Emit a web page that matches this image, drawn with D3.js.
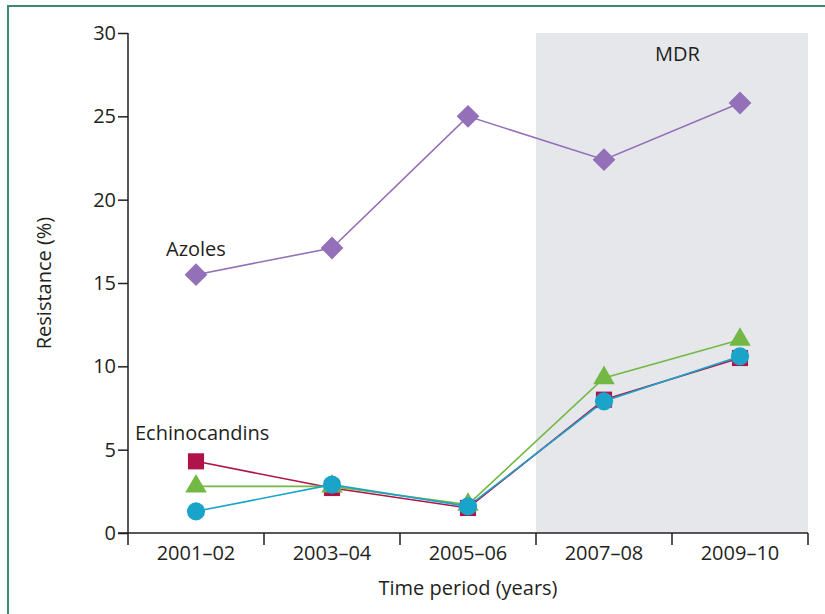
<!DOCTYPE html>
<html lang="en">
<head>
<meta charset="UTF-8" />
<style>
  body { margin: 0; background: #fff; }
  text { font-family: "Open Sans", "Noto Sans", sans-serif; fill: #231f20; }
</style>
</head>
<body>
<svg width="825" height="614"></svg>
<script src="https://d3js.org/d3.v7.min.js"></script>
<script>
// data
var periods = ["2001–02", "2003–04", "2005–06", "2007–08", "2009–10"];
var yTicks = [0, 5, 10, 15, 20, 25, 30];
var mdrPeriods = ["2007–08", "2009–10"];

var azoles = [15.5, 17.1, 25.0, 22.4, 25.8];
var echinoRed = [4.3, 2.7, 1.5, 8.0, 10.5];
var greenTri = [2.8, 2.8, 1.7, 9.3, 11.6];
var blueCircle = [1.3, 2.9, 1.6, 7.9, 10.6];

var svg = d3.select("svg");
var fs = "20px";

// green frame
svg.append("rect")
    .attr("x", 8).attr("y", 6)
    .attr("width", 830).attr("height", 620)
    .attr("fill", "none")
    .attr("stroke", "#3d8a70")
    .attr("stroke-width", 2);

var mLeft = 128, mRight = 808, mTop = 33, mBottom = 533;

var x = d3.scaleBand().domain(periods).range([mLeft, mRight]);
var y = d3.scaleLinear().domain([0, 30]).range([mBottom, mTop]);

// shaded MDR region
svg.append("rect")
    .attr("x", x(mdrPeriods[0]))
    .attr("y", y(30))
    .attr("width", x.bandwidth() * mdrPeriods.length)
    .attr("height", y(0) - y(30))
    .attr("fill", "#e6e7eb");

svg.append("text")
    .attr("x", x(mdrPeriods[0]) + x.bandwidth() * 1.04)
    .attr("y", 61)
    .attr("text-anchor", "middle")
    .style("font-size", fs)
    .text("MDR");

// axes
var yAxis = svg.append("g")
    .attr("transform", "translate(" + mLeft + ",0)")
    .call(d3.axisLeft(y).tickValues(yTicks).tickSize(10).tickPadding(2));
yAxis.select(".domain").attr("d", "M0," + y(30) + "V" + y(0));
yAxis.selectAll("text").style("font-size", fs).attr("fill", "#231f20");
yAxis.selectAll("line, path").attr("stroke", "#231f20").attr("stroke-width", 1.5);

var xAxis = svg.append("g")
    .attr("transform", "translate(0," + mBottom + ")")
    .call(d3.axisBottom(x).tickSize(0).tickPadding(13));
xAxis.select(".domain").remove();
xAxis.selectAll("text").style("font-size", fs).attr("fill", "#231f20");

svg.append("line")
    .attr("x1", mLeft - 10).attr("x2", mRight)
    .attr("y1", mBottom).attr("y2", mBottom)
    .attr("stroke", "#231f20").attr("stroke-width", 1.5);

var edges = periods.map(function (p) { return x(p); }).concat([mRight]);
svg.selectAll(".xtick")
    .data(edges)
    .enter().append("line")
    .attr("class", "xtick")
    .attr("x1", function (d) { return d; }).attr("x2", function (d) { return d; })
    .attr("y1", mBottom).attr("y2", mBottom + 12)
    .attr("stroke", "#231f20").attr("stroke-width", 1.5);

// axis titles
svg.append("text")
    .attr("x", x("2005–06") + x.bandwidth() / 2)
    .attr("y", 595)
    .attr("text-anchor", "middle")
    .style("font-size", fs)
    .text("Time period (years)");

svg.append("text")
    .attr("transform", "translate(51," + y(15) + ") rotate(-90)")
    .attr("text-anchor", "middle")
    .style("font-size", fs)
    .text("Resistance (%)");

// series
var cx = function (d, i) { return x(periods[i]) + x.bandwidth() / 2; };
var line = d3.line().x(cx).y(function (d) { return y(d); });

var series = [
    { values: azoles, color: "#9470b8", shape: d3.symbolDiamond2, size: 330 },
    { values: echinoRed, color: "#b0124a", shape: d3.symbolSquare, size: 260 },
    { values: greenTri, color: "#73b845", shape: d3.symbolTriangle, size: 200 },
    { values: blueCircle, color: "#1aa4c9", shape: d3.symbolCircle, size: 260 }
];

series.forEach(function (s) {
    svg.append("path")
        .datum(s.values)
        .attr("d", line)
        .attr("fill", "none")
        .attr("stroke", s.color)
        .attr("stroke-width", 1.6);
});

series.forEach(function (s) {
    svg.selectAll(null)
        .data(s.values)
        .enter().append("path")
        .attr("transform", function (d, i) { return "translate(" + cx(d, i) + "," + y(d) + ")"; })
        .attr("d", d3.symbol().type(s.shape).size(s.size))
        .attr("fill", s.color);
});

// series labels
svg.append("text")
    .attr("x", 166).attr("y", 256)
    .style("font-size", fs)
    .text("Azoles");

svg.append("text")
    .attr("x", 135).attr("y", 440)
    .style("font-size", fs)
    .text("Echinocandins");
</script>
</body>
</html>
